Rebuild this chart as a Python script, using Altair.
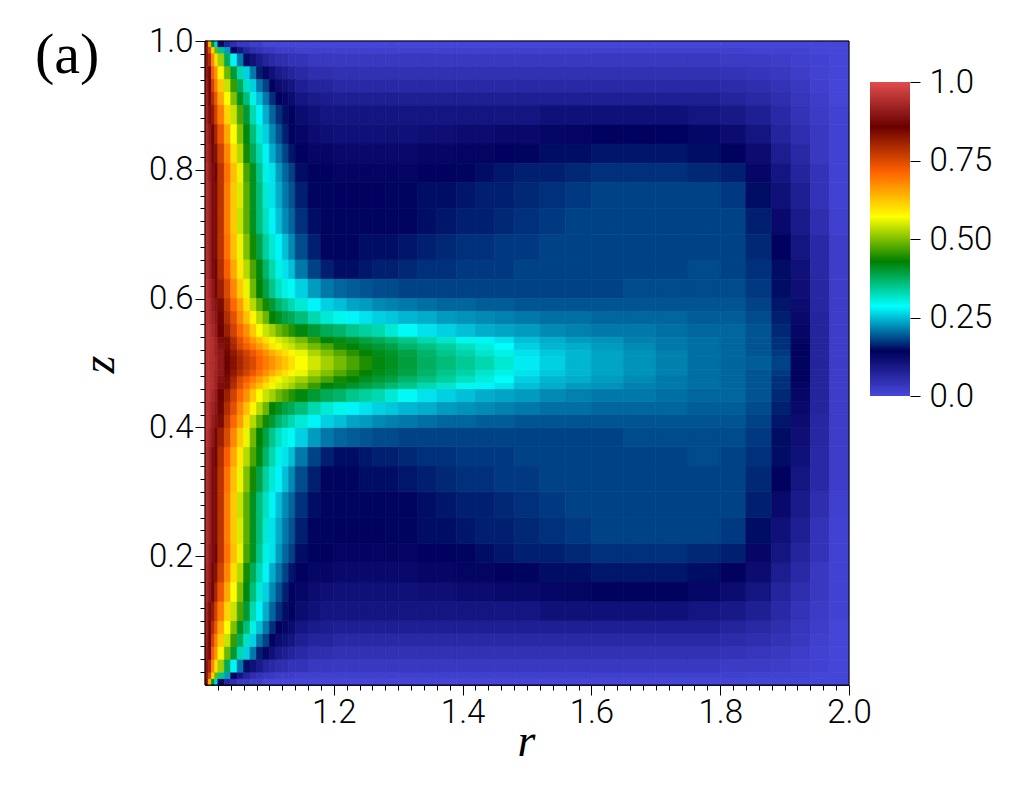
import altair as alt
import pandas as pd

# Column edges in r (offset from r=1) and row edges in z for the upper half; the field is mirror-symmetric about z=0.5.
r_edges = [0, .005, .01, .015, .02, .03, .04, .05, .06, .07, .08, .09, .10, .11, .12, .13, .14, .16, .18, .20, .22, .24,
           .26, .28, .30, .33, .36, .39, .42, .45, .48, .52, .56, .60, .65, .70, .75, .80, .84, .88, .91, .94, .97, 1.0]
z_edges = [1.0, .99, .98, .96, .94, .92, .90, .87, .84, .81, .78, .74, .70, .66, .63, .60, .58, .56, .54, .53, .52, .51, .50]

# Field values (percent), one row per z band, top to centre.
rows = [
 [88,64,41,26,13,7,5,3,3,2,2,.5,.5,.5,.5,.5,.5,.5,.5,.5,.5,.5,.5,.5,.5,.5,.5,.5,.5,.5,.5,.5,.5,.5,.5,.5,.5,.5,.5,.5,.5,.5,.5],
 [90,75,61,49,35,23,14,10,7,5,4,3,3,2,2,2,1.5,1.5,1.5,1.5,1.5,1.5,1.5,1.5,1.5,1.5,1.5,1.5,1.5,1.5,1.5,1.5,1.5,1.5,1.5,1.5,1.5,1.5,1,1,1,.5,.5],
 [90,80,68,60,52,38,28,21,15,11,9,7,6,5,5,4,4,3,3,3,3,3,3,3,3,3,3,3,3,3,3,3,3,3,3,3,3,2.5,2.5,2,1.5,1,.5],
 [91,87,72,67,58,49,40,33,26,21,16,13,11,9,8,7,6,5,5,4.5,4.5,4.5,4.5,4.5,4.5,4.5,4.5,4.5,4.5,4.5,4.5,4.5,4.5,4.5,4.5,4.5,4.5,4,3.5,3,2,1,.5],
 [92,85,76,69,62,54,46,38,32,26,21,18,14,12,11,10,8,7,7,6,6,6,6,6,6,6,6,6,6,6,6,6,6,6,6,6,6,5.5,5,4,3,1.5,.5],
 [93,87,79,73,65,57,50,41,36,30,25,21,17,14,13,12,10,9,8.5,8,8,8,8,8,8,8,8,8,8,8,8,8,8,8,8,8,8,7,6,5,3.5,2,.5],
 [93,88,82,76,69,61,54,47,40,33,28,24,20,17,15,14,12,11,10,10,10,10,10,10,10,10,10,10,10,10,10,11,11,11,11,11,10,9.5,8,6,4,2.5,1],
 [94,90,85,80,73,65,57,50,42,36,31,26,22,19,16,14,13,12,11.5,11,11,11,11,11,11,11.5,11.5,12,12,12.5,12.5,13,13.5,14,14,14,13,12,10,7,5,3,1],
 [94,91,87,83,76,68,60,53,44,38,33,28,24,21,18,15.5,14,13,13,12.5,12.5,12.5,12.5,12.5,12.5,13,13,13.5,13.5,14,14.5,15,15,15.5,15.5,15.5,15,14,12,8.5,6,3,1],
 [95,91,88,85,78,70,63,56,47,41,35,30,27,23,20,18,15,14,14,13.5,13.5,13.5,13.5,13.5,13.5,14,14,14.5,15,15.5,16,16,16.5,17,17,17,16.5,16,13,10,7,4,1],
 [95,92,88,84,78,69,62,55,48,41,36,31,27,24,21,19,16,14.5,14.5,14,14,14,14,14.5,14.5,15,15,15.5,16,16,16.5,17,17.5,18,18,18,18,17.5,15,11,8,4,1],
 [95,92,88,84,78,69,62,54,48,41,36,32,28,25,22,20,17,15,14.5,14.5,14.5,14.5,14.5,14.5,14.5,15,15.5,16,16,16.5,17,17.5,18,18,18,18,18,18,16,12.5,9,5,1.5],
 [95,92,88,84,78,70,63,56,50,44,39,34,31,28,25,22,18.5,16,14.5,14.5,14.5,15,15,15,15.5,16,16.5,17,17,17.5,17.5,18,18,18,18,18,18,18,16.5,14,10,6,2],
 [95,92,88,85,79,72,65,59,53,47,42,37,33,30,27,25,21,18,16,15,15,15.5,16,16,16.5,17,17,17.5,17.5,17.5,18,18,18,18,18,18,18.5,18,17,15,11,6,2],
 [96,93,90,87,81,75,68,62,56,49,43,39,35,32,30,29,26,23,21,20,19.5,19,18.5,18.5,18,18,18,18,18,18,18,18,18,18,18.5,18.5,18.5,18.5,17.5,15,11.5,6.5,2],
 [96,94,91,89,84,77,71,66,60,53,48,44,40,37,35,33,31,28,26,25,23.5,23,22,21.5,21,20.5,20,20,19.5,19.5,19,19,19,19,19,19,19,19,18,15.5,12,6.5,2],
 [96,94,92,90,85,79,74,68,63,58,53,49,43,41,39,38,36,33,31,29.5,28,27,26,25.5,24.5,24,23,22.5,22,21.5,21,20.5,20.5,20,20,20,19.5,19.5,18.5,16,12.5,7,2],
 [96,95,93,91,86,81,76,71,67,62,57,54,52,49,47,45,42,40,38,37,35,34,33,31,29,27,26,25,24,23.5,23,22,21.5,21,21,20.5,20,20,19,16.5,13,7,2],
 [96,95,94,92,88,84,79,74,70,66,63,60,56.5,55,53.5,52,49.5,46,42.5,41.5,40.5,39,38,36.5,35,33,31.5,29.5,28,27,25,24,23,22.5,21.5,21,20.5,20,19,17,13.5,7,2],
 [96,95,94,92,89,84,80,75,72,69,66,63,59.5,56.5,55,54,52,49.5,47,44,42.5,41,40,39,37,35.5,34,32,30.5,28.5,26,24.5,24,23,22,21,20.5,20,19,17,14,7,2],
 [96,95,94,92,90,85,82,79,76,73,70,67,64.5,62,60,58,56,52.5,50,47.5,45,43,41.5,40.5,39,37,35,33.5,31.5,30,27,25.5,24.5,23.5,22.5,21.5,20.5,20,19,17.5,14,7,2],
 [96,95,94,93,90,86,83,80,77,75,71.5,69,67,64.5,62.5,60,57,54.5,52,49.5,47,44.5,42,41,39.5,37.5,36,34.5,33,31,27.5,26,24.5,23.5,22.5,21.5,20.5,20,19.5,18,14.5,7,2],
]

stops = [0, 1/7, 2/7, 3/7, 4/7, 5/7, 6/7, 1]
palette = ["#4747db", "#00005c", "#00ffff", "#008000", "#ffff00", "#ff6100", "#6b0000", "#e04d4d"]
bar_ticks = [0, .25, .5, .75, 1]
labels = ["(a)"]

cells = []
for i, row in enumerate(rows):
    assert len(row) == len(r_edges) - 1, i
    for j, v in enumerate(row):
        r0, r1 = 1 + r_edges[j], 1 + r_edges[j + 1]
        za, zb = z_edges[i + 1], z_edges[i]
        cells.append(dict(r=r0, r2=r1, z=za, z2=zb, v=v / 100))
        cells.append(dict(r=r0, r2=r1, z=1 - zb, z2=1 - za, v=v / 100))
heat_df = pd.DataFrame(cells)

r_ticks = [round(1 + .02 * i, 2) for i in range(1, 51)]
z_ticks = [round(.02 * i, 2) for i in range(1, 51)]
is_major = "abs(datum.value*5-round(datum.value*5))<0.001"
tick_size = {"condition": {"test": is_major, "value": 10}, "value": 5}
label_expr = f"{is_major} ? format(datum.value,'.1f') : ''"
TICK_FONT = "Roboto"
TICK_SIZE = 33

x_scale = alt.Scale(domain=[1, 2], nice=False, zero=False)
y_scale = alt.Scale(domain=[0, 1], nice=False, zero=False)
color_scale = alt.Scale(domain=stops, range=palette, interpolate="rgb", clamp=True)

x_axis = alt.Axis(values=r_ticks, tickCount=100, tickSize=tick_size, labelExpr=label_expr, grid=False, labelOverlap=False,
                  labelFlush=False, labelFont=TICK_FONT, labelFontSize=TICK_SIZE, labelFontWeight=300, labelColor="black",
                  labelPadding=1, tickColor="black", domainColor="black", title="r", titleFont="Liberation Serif",
                  titleFontStyle="italic", titleFontWeight="normal", titleFontSize=46, titleColor="black",
                  titleX=321, titleY=70, titleBaseline="alphabetic", titleAlign="center")
y_axis = alt.Axis(values=z_ticks, tickCount=100, tickSize=tick_size, labelExpr=label_expr, grid=False, labelOverlap=False,
                  labelFlush=False, labelFont=TICK_FONT, labelFontSize=TICK_SIZE, labelFontWeight=300, labelColor="black",
                  labelPadding=2, tickColor="black", domainColor="black", title="z", titleFont="Liberation Serif",
                  titleFontStyle="italic", titleFontWeight="normal", titleFontSize=46, titleColor="black",
                  titleX=-92, titleY=323, titleAngle=270, titleBaseline="alphabetic", titleAlign="center")

heat = alt.Chart(heat_df).mark_rect(strokeWidth=0.7).encode(
    x=alt.X("r:Q", scale=x_scale, axis=x_axis),
    x2="r2:Q",
    y=alt.Y("z:Q", scale=y_scale, axis=y_axis),
    y2="z2:Q",
    color=alt.Color("v:Q", scale=color_scale, legend=None),
    stroke=alt.Stroke("v:Q", scale=color_scale, legend=None),
)
frame = alt.Chart(pd.DataFrame([dict(r=1, r2=2, z=0, z2=1)])).mark_rect(filled=False, stroke="black", strokeWidth=1).encode(
    x=alt.X("r:Q", scale=x_scale), x2="r2:Q", y=alt.Y("z:Q", scale=y_scale), y2="z2:Q")
panel_label = alt.Chart(pd.DataFrame({"label": labels})).mark_text(
    font="Liberation Serif", fontSize=58, align="left", baseline="alphabetic", color="black"
).encode(x=alt.value(-170), y=alt.value(32), text="label:N")

main = alt.layer(heat, frame, panel_label).properties(width=644, height=644)

gradient = alt.LinearGradient(
    gradient="linear", x1=0, y1=1, x2=0, y2=0,
    stops=[alt.GradientStop(offset=s, color=c) for s, c in zip(stops, palette)],
)
bar_df = pd.DataFrame([dict(lo=0, hi=1)])
bar = alt.Chart(bar_df).mark_rect(color=gradient).encode(
    x=alt.value(0), x2=alt.value(40),
    y=alt.Y("lo:Q", scale=alt.Scale(domain=[0, 355 / 314], nice=False, zero=False),
            axis=alt.Axis(orient="right", values=bar_ticks, title=None, grid=False, domain=False, tickSize=10,
                          tickColor="black", labelPadding=9, labelFont=TICK_FONT, labelFontSize=TICK_SIZE,
                          labelFontWeight=300, labelColor="black", labelFlush=False, labelOverlap=False,
                          labelExpr="datum.value==0 ? '0.0' : datum.value==1 ? '1.0' : format(datum.value,'.2f')")),
    y2="hi:Q",
).properties(width=40, height=355)

chart = alt.hconcat(main, bar, spacing=21, bounds="flush").properties(
    padding={"left": 27, "top": 17, "right": 5, "bottom": 5}
).configure_view(stroke=None)

chart.save("out.html", embed_options={"renderer": "svg", "actions": False})
